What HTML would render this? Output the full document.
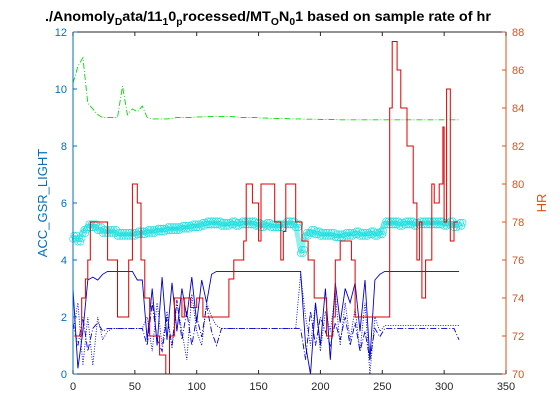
<!DOCTYPE html>
<html><head><meta charset="utf-8"><style>
body{margin:0;background:#fff;}
svg{display:block;font-family:"Liberation Sans",Arial,sans-serif;}
</style></head><body>
<svg id="chart" width="560" height="420" viewBox="0 0 560 420" xmlns="http://www.w3.org/2000/svg">
<rect width="560" height="420" fill="#fff"/>
<text x="268" y="21" text-anchor="middle" font-size="14" font-weight="bold" textLength="446" lengthAdjust="spacingAndGlyphs">./Anomoly<tspan font-size="10" dy="4">D</tspan><tspan dy="-4">ata/11</tspan><tspan font-size="10" dy="4">1</tspan><tspan dy="-4">0</tspan><tspan font-size="10" dy="4">p</tspan><tspan dy="-4">rocessed/MT</tspan><tspan font-size="10" dy="4">O</tspan><tspan dy="-4">N</tspan><tspan font-size="10" dy="4">0</tspan><tspan dy="-4">1 based on sample rate of hr</tspan></text>
<g id="plot"></g>
<g id="axes"></g>
<text transform="translate(47,203) rotate(-90)" text-anchor="middle" font-size="13" fill="#0072BD">ACC_GSR_LIGHT</text>
<text transform="translate(546,203) rotate(-90)" text-anchor="middle" font-size="13" fill="#D95319">HR</text>
</svg>
<script>
const xTicks=[0,50,100,150,200,250,300,350];
const yLeftTicks=[0,2,4,6,8,10,12];
const yRightTicks=[70,72,74,76,78,80,82,84,86,88];
const hrTime=[1,5,7,10,12,14,20,28,35,36,40,45,48,52,55,58,62,68,70,75,78,82,88,90,95,100,105,115,122,126,130,135,138,140,145,148,150,152,156,160,163,168,170,172,175,178,180,185,190,195,200,205,210,212,216,220,225,228,235,250,255,256,258,262,265,270,275,278,280,282,285,290,292,296,299,300,302,305,308,311];
const hrValues=[72,72,74,75,76,78,78,76,76,73,73,76,80,79,76,74,72,72,71,70,72,74,73,74,73.5,74,73,73,73,75,76,76,77,80,79,79,77,80,80,80,78,76,77.5,80,80,80,78,77,76,74,74,72,73,76,77,77,76,73,73,73,73,84,87.5,86,84,82,79,76,78,74,76,80,79,80,83,78,85,77,78,78];
const sampleStep=4;
const gsrValues=[4.8,4.7,5.0,5.2,5.2,5.1,5.0,5.0,5.0,4.9,4.9,4.9,4.9,4.95,4.95,5.0,5.0,5.05,5.05,5.1,5.1,5.1,5.15,5.15,5.2,5.2,5.25,5.3,5.3,5.3,5.25,5.25,5.3,5.25,5.3,5.3,5.3,5.25,5.2,5.25,5.2,5.2,5.2,5.3,5.3,5.2,4.3,4.9,5.0,4.95,4.9,4.9,4.9,4.85,4.85,4.9,4.9,4.95,4.9,4.9,4.95,4.9,4.95,5.3,5.3,5.3,5.25,5.3,5.3,5.25,5.3,5.3,5.3,5.3,5.3,5.25,5.3,5.2,5.25];
const lightValues=[10.2,10.8,11.1,9.5,9.3,9.1,9.0,9.0,9.0,9.0,10.1,9.1,9.3,9.2,9.4,9.0,8.95,8.95,8.95,8.95,8.97,9.0,9.0,9.0,9.0,9.02,9.02,9.03,9.04,9.04,9.03,9.03,9.03,9.02,9.0,9.0,9.0,9.0,8.98,8.98,8.97,8.97,8.96,8.96,8.95,8.95,8.95,8.94,8.94,8.94,8.93,8.93,8.93,8.93,8.92,8.92,8.92,8.92,8.92,8.92,8.92,8.92,8.92,8.92,8.92,8.92,8.92,8.92,8.92,8.92,8.92,8.92,8.92,8.92,8.92,8.92,8.92,8.92,8.92];
const accSolid=[3.0,0.2,1.5,3.3,3.4,3.3,3.5,3.6,3.6,3.6,3.6,3.6,3.6,3.3,3.3,1.2,3.0,1.0,3.4,1.2,3.2,1.5,3.0,2.0,3.4,1.8,3.3,2.5,3.5,3.6,3.6,3.6,3.6,3.6,3.6,3.6,3.6,3.6,3.6,3.6,3.6,3.6,3.6,3.6,3.6,3.6,3.6,1.0,0.0,2.5,1.0,3.0,0.5,3.2,1.8,3.0,2.5,3.2,1.5,3.3,0.5,3.3,3.5,3.6,3.6,3.6,3.6,3.6,3.6,3.6,3.6,3.6,3.6,3.6,3.6,3.6,3.6,3.6,3.6];
const accDashDot=[1.8,1.0,2.0,0.8,1.6,1.8,1.5,1.6,1.6,1.6,1.6,1.6,1.6,1.6,1.6,1.0,2.5,1.2,0.8,2.0,1.0,2.6,1.2,2.2,1.0,2.0,1.3,2.4,1.5,1.0,1.6,1.6,1.6,1.6,1.6,1.6,1.6,1.6,1.6,1.6,1.6,1.6,1.6,1.6,1.6,1.6,1.6,0.5,2.2,1.0,2.0,1.5,1.0,1.8,1.2,2.0,1.0,1.8,0.8,1.5,0.5,1.6,1.3,1.6,1.6,1.6,1.6,1.6,1.6,1.6,1.6,1.6,1.6,1.6,1.6,1.6,1.6,1.6,1.2];
const accDotted=[1.5,2.5,0.3,2.0,0.3,2.0,1.2,1.5,1.6,1.6,1.6,1.6,1.6,1.6,1.6,2.0,0.8,2.5,1.0,2.2,0.9,2.5,1.5,0.5,2.8,1.5,1.0,2.5,2.0,1.7,1.6,1.6,1.6,1.6,1.6,1.6,1.6,1.6,1.6,1.6,1.6,1.6,1.6,1.6,1.6,1.6,3.5,2.0,1.0,2.5,0.8,2.2,1.5,2.8,1.0,2.5,1.2,2.3,0.8,2.5,0.0,2.0,1.5,1.7,1.7,1.7,1.7,1.7,1.7,1.7,1.7,1.7,1.7,1.7,1.7,1.7,1.7,1.7,1.7];

const L=73,R=506,T=32,B=374;
const xS=t=>L+(t/350)*(R-L);
const yL=v=>B-(v/12)*(B-T);
const yR=v=>B-((v-70)/18)*(B-T);
const NS='http://www.w3.org/2000/svg';
const plot=document.getElementById('plot'),axes=document.getElementById('axes');
function mk(tag,attrs,parent){const e=document.createElementNS(NS,tag);for(const k in attrs)e.setAttribute(k,attrs[k]);parent.appendChild(e);return e;}
function line(vals,ys,color,dash,w,name){
  const pts=vals.map((v,i)=>xS(i*sampleStep).toFixed(1)+','+ys(v).toFixed(1)).join(' ');
  const p=mk('polyline',{points:pts,fill:'none',stroke:color,'stroke-width':w,'stroke-dasharray':dash},plot);
  
  
}
line(lightValues,yL,'#00dd00','6 2 1 2',0.9,'light-series');
line(accDotted,yL,'#0000cc','1 1.5',0.9,'acc-dotted-series');
line(accDashDot,yL,'#0000cc','6 2 1 2',0.9,'acc-dashdot-series');
line(accSolid,yL,'#0000cc','none',0.9,'acc-solid-series');
const band=mk('polyline',{points:gsrValues.map((v,i)=>xS(i*sampleStep).toFixed(1)+','+yL(v).toFixed(1)).join(' '),fill:'none',stroke:'#8ef0f0','stroke-width':5,'stroke-linejoin':'round'},plot);


gsrValues.forEach((v,i)=>{
  for(let k=0;k<4;k++){
    const c=mk('circle',{cx:xS(i*sampleStep+k).toFixed(1),cy:yL(v+(k%2?0.06:-0.06)).toFixed(1),r:3.3,fill:'none',stroke:'#22e0e0','stroke-width':0.7},plot);
    
    
  }
});
// HR as stairs
let hrPts=[];
hrTime.forEach((t,i)=>{
  if(i>0) hrPts.push(xS(t).toFixed(1)+','+yR(hrValues[i-1]).toFixed(1));
  hrPts.push(xS(t).toFixed(1)+','+yR(hrValues[i]).toFixed(1));
});
const hr=mk('polyline',{points:hrPts.join(' '),fill:'none',stroke:'#dd0000','stroke-width':1},plot);


mk('line',{x1:L,y1:B,x2:R,y2:B,stroke:'#262626','stroke-width':1},axes);
mk('line',{x1:L,y1:T,x2:R,y2:T,stroke:'#262626','stroke-width':1},axes);
mk('line',{x1:L,y1:T,x2:L,y2:B,stroke:'#0072BD','stroke-width':1},axes);
mk('line',{x1:R,y1:T,x2:R,y2:B,stroke:'#D95319','stroke-width':1},axes);
xTicks.forEach(t=>{
  const x=xS(t);
  mk('line',{x1:x,y1:B,x2:x,y2:B-4,stroke:'#262626'},axes);
  mk('line',{x1:x,y1:T,x2:x,y2:T+4,stroke:'#262626'},axes);
  const tx=mk('text',{x:x,y:B+16,'text-anchor':'middle','font-size':11,fill:'#262626'},axes);
  tx.textContent=t;
  
  
});
yLeftTicks.forEach(v=>{
  const y=yL(v);
  mk('line',{x1:L,y1:y,x2:L+4,y2:y,stroke:'#0072BD'},axes);
  const tx=mk('text',{x:L-6,y:y+4,'text-anchor':'end','font-size':11,fill:'#0072BD'},axes);
  tx.textContent=v;
  
  
});
yRightTicks.forEach(v=>{
  const y=yR(v);
  mk('line',{x1:R,y1:y,x2:R-4,y2:y,stroke:'#D95319'},axes);
  const tx=mk('text',{x:R+6,y:y+4,'text-anchor':'start','font-size':11,fill:'#D95319'},axes);
  tx.textContent=v;
  
  
});
</script>
</body></html>
